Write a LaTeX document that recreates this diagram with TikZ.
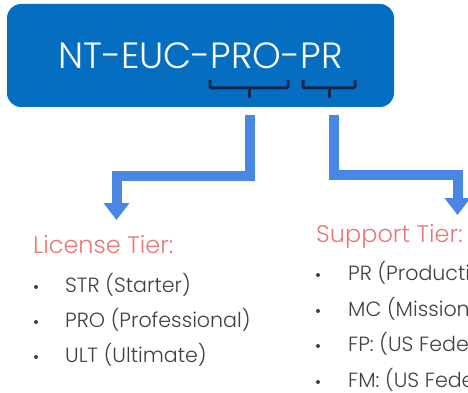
\documentclass[tikz,border=0pt]{standalone}
\usepackage{fontspec}
\setmainfont{Poppins Light}
\usetikzlibrary{arrows.meta}
\definecolor{boxblue}{RGB}{5,110,192}
\definecolor{connblue}{RGB}{74,134,228}
\definecolor{bracenavy}{RGB}{24,38,82}
\definecolor{headred}{RGB}{230,120,120}
\definecolor{listgray}{RGB}{64,64,64}
\tikzset{
  codebox/.style={fill=boxblue, rounded corners=14pt, minimum width=387pt, minimum height=103pt, inner sep=0pt, text=white, font=\fontsize{36.5}{40}\selectfont},
  bracepath/.style={draw=bracenavy, line width=3pt, rounded corners=1.5pt},
  conn/.style={draw=connblue, line width=10pt, line join=miter, -{Triangle[width=25pt,length=17pt]}},
  heading/.style={anchor=base west, inner sep=0pt, text=headred, font=\fontsize{24}{27}\selectfont},
  item/.style={anchor=base west, inner sep=0pt, text=listgray, font=\fontsize{20.6}{23}\selectfont},
  dot/.style={circle, fill=listgray, inner sep=0pt, minimum size=4pt},
}
\begin{document}
\begin{tikzpicture}[x=1pt,y=-1pt]
\useasboundingbox (0,0) rectangle (468,393);
\clip (0,0) rectangle (468,393);
\node[codebox] (code) at (200.5,55.5) {NT-EUC-PRO-PR};
% braces
\draw[bracepath] (210,80) -- (210,88) -- (288,88) -- (288,80);
\draw[bracepath] (249,88) -- (249,98);
\draw[bracepath] (303,80) -- (303,88) -- (355,88) -- (355,80);
\draw[bracepath] (329,88) -- (329,98);
% connector anchors
\coordinate (s1) at (249.5,115);
\coordinate (e1) at (116.5,220);
\coordinate (s2) at (333.5,115);
\coordinate (e2) at (457.5,215);
\draw[conn] (s1) -- (249.5,176) -- (116.5,176) -- (e1);
\draw[conn] (s2) -- (333.5,174.5) -- (457.5,174.5) -- (e2);
% headings
\node[heading] (lic) at (33,253) {License Tier:};
\node[heading] (sup) at (316,242) {Support Tier:};
% left list
\node[dot] (d1) at (36,287) {};
\node[item] (l1) at (65,292) {STR (Starter)};
\node[dot] (d2) at (36,322) {};
\node[item] (l2) at (65,327) {PRO (Professional)};
\node[dot] (d3) at (36,357) {};
\node[item] (l3) at (65,362) {ULT (Ultimate)};
% right list
\node[dot] (r1d) at (318,275) {};
\node[item] (r1) at (348,280) {PR (Production)};
\node[dot] (r2d) at (318,311) {};
\node[item] (r2) at (348,316) {MC (Mission Critical)};
\node[dot] (r3d) at (318,346) {};
\node[item] (r3) at (348,351) {FP: (US Federal Production)};
\node[dot] (r4d) at (318,382) {};
\node[item] (r4) at (348,387) {FM: (US Federal Mission Critical)};
\end{tikzpicture}
\end{document}
